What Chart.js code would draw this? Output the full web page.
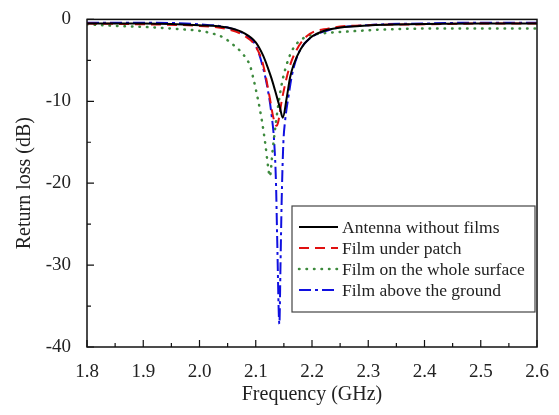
<!DOCTYPE html>
<html>
<head>
<meta charset="utf-8">
<script src="https://cdn.jsdelivr.net/npm/chart.js@4.4.1/dist/chart.umd.min.js"></script>
<style>
  html, body { margin: 0; padding: 0; background: #fff; }
  #wrap { width: 559px; height: 415px; }
</style>
</head>
<body>
<div id="wrap"><canvas id="rl"></canvas></div>
<script>
// Series labels
const seriesNames = ['Antenna without films', 'Film under patch', 'Film on the whole surface', 'Film above the ground'];

// Antenna without films (black, solid)
const freqBlack = [1.80, 1.90, 2.00, 2.05, 2.08, 2.10, 2.113, 2.122, 2.128, 2.134, 2.143, 2.148, 2.155, 2.161, 2.167, 2.18, 2.196, 2.226, 2.285, 2.37, 2.50, 2.60];
const lossBlack = [-0.5, -0.5, -0.7, -1.0, -1.7, -2.8, -4.4, -6.0, -7.2, -8.6, -10.8, -12.0, -9.6, -7.1, -5.6, -3.6, -2.3, -1.3, -0.8, -0.6, -0.5, -0.5];

// Film under patch (red, dashed)
const freqRed = [1.80, 1.90, 2.00, 2.05, 2.08, 2.10, 2.113, 2.125, 2.131, 2.137, 2.140, 2.146, 2.152, 2.158, 2.167, 2.19, 2.23, 2.30, 2.40, 2.50, 2.60];
const lossRed = [-0.5, -0.6, -0.8, -1.2, -2.0, -3.3, -5.5, -9.6, -11.9, -13.0, -12.5, -10.0, -8.0, -6.3, -4.5, -2.1, -1.1, -0.7, -0.6, -0.5, -0.5];

// Film on the whole surface (green, dotted)
const freqGreen = [1.80, 1.823, 1.924, 1.965, 2.00, 2.022, 2.042, 2.06, 2.078, 2.09, 2.095, 2.104, 2.111, 2.117, 2.122, 2.125, 2.13, 2.136, 2.141, 2.148, 2.16, 2.17, 2.19, 2.22, 2.26, 2.34, 2.45, 2.60];
const lossGreen = [-0.6, -0.7, -1.0, -1.2, -1.4, -1.7, -2.2, -3.1, -4.3, -5.7, -7.0, -9.8, -12.4, -15.2, -18.0, -19.2, -16.0, -12.5, -10.0, -7.3, -4.5, -3.2, -2.1, -1.7, -1.5, -1.2, -1.1, -1.1];

// Film above the ground (blue, dash-dot)
const freqBlue = [1.80, 1.90, 2.00, 2.05, 2.08, 2.10, 2.113, 2.122, 2.128, 2.133, 2.136, 2.138, 2.142, 2.144, 2.146, 2.149, 2.152, 2.158, 2.165, 2.175, 2.19, 2.23, 2.30, 2.40, 2.50, 2.60];
const lossBlue = [-0.4, -0.4, -0.6, -1.0, -1.8, -3.2, -5.9, -8.8, -11.6, -15.2, -20.0, -26.4, -37.2, -30.0, -22.4, -15.2, -12.5, -9.5, -6.6, -4.3, -2.7, -1.3, -0.7, -0.5, -0.4, -0.4];

// Axis ticks
const freqTicks = [1.8, 1.9, 2.0, 2.1, 2.2, 2.3, 2.4, 2.5, 2.6];
const lossTicks = [0, -10, -20, -30, -40];

const serif = '"Liberation Serif", "DejaVu Serif", serif';

function pts(xs, ys) {
    return xs.map((x, i) => ({ x: x, y: ys[i] }));
}

// inward ticks + frame box
const framePlugin = {
    id: 'frame',
    afterDraw(chart) {
        const { ctx, chartArea: a, scales } = chart;
        ctx.save();
        ctx.strokeStyle = '#111';
        ctx.lineWidth = 1.5;
        ctx.strokeRect(a.left, a.top, a.right - a.left, a.bottom - a.top);

        ctx.lineWidth = 1.2;
        ctx.beginPath();
        for (let i = 0; i < freqTicks.length; i++) {
            const px = scales.x.getPixelForValue(freqTicks[i]);
            ctx.moveTo(px, a.bottom);
            ctx.lineTo(px, a.bottom - 7);
            if (i < freqTicks.length - 1) {
                const mx = scales.x.getPixelForValue((freqTicks[i] + freqTicks[i + 1]) / 2);
                ctx.moveTo(mx, a.bottom);
                ctx.lineTo(mx, a.bottom - 4);
            }
        }
        for (let i = 0; i < lossTicks.length; i++) {
            const py = scales.y.getPixelForValue(lossTicks[i]);
            ctx.moveTo(a.left, py);
            ctx.lineTo(a.left + 7, py);
            if (i < lossTicks.length - 1) {
                const my = scales.y.getPixelForValue((lossTicks[i] + lossTicks[i + 1]) / 2);
                ctx.moveTo(a.left, my);
                ctx.lineTo(a.left + 4, my);
            }
        }
        ctx.stroke();
        ctx.restore();
    }
};

// boxed legend in the lower right of the plot
const boxLegend = {
    id: 'boxLegend',
    afterDraw(chart) {
        const ctx = chart.ctx;
        const bx = 292, by = 206, bw = 243, bh = 106;
        ctx.save();
        ctx.fillStyle = '#fff';
        ctx.fillRect(bx, by, bw, bh);
        ctx.strokeStyle = '#444';
        ctx.lineWidth = 1.2;
        ctx.strokeRect(bx, by, bw, bh);
        ctx.font = '17.5px ' + serif;
        ctx.textBaseline = 'middle';
        chart.data.datasets.forEach((ds, i) => {
            const y = by + 21 + i * 21;
            ctx.beginPath();
            ctx.strokeStyle = ds.borderColor;
            ctx.lineWidth = ds.borderWidth;
            ctx.lineCap = ds.borderCapStyle || 'butt';
            ctx.setLineDash(ds.borderDash || []);
            ctx.moveTo(bx + 7, y);
            ctx.lineTo(bx + 46, y);
            ctx.stroke();
            ctx.setLineDash([]);
            ctx.fillStyle = '#222';
            ctx.fillText(ds.label, bx + 50, y + 1);
        });
        ctx.restore();
    }
};

const styles = [
    { color: '#000000', dash: [], cap: 'butt' },
    { color: '#e01010', dash: [10, 6], cap: 'butt' },
    { color: '#3d8a3d', dash: [0.5, 7], cap: 'round' },
    { color: '#1010e0', dash: [12, 4, 3, 4], cap: 'butt' }
];
const series = [
    pts(freqBlack, lossBlack),
    pts(freqRed, lossRed),
    pts(freqGreen, lossGreen),
    pts(freqBlue, lossBlue)
];

new Chart(document.getElementById('rl'), {
    type: 'line',
    data: {
        datasets: series.map((d, i) => ({
            label: seriesNames[i],
            data: d,
            borderColor: styles[i].color,
            borderDash: styles[i].dash,
            borderCapStyle: styles[i].cap,
            borderWidth: i === 2 ? 2.5 : 2,
            pointRadius: 0,
            cubicInterpolationMode: 'monotone',
            fill: false
        }))
    },
    options: {
        responsive: true,
        maintainAspectRatio: false,
        animation: false,
        layout: { padding: { top: 14, right: 22, left: 0, bottom: 0 } },
        plugins: {
            legend: { display: false },
            tooltip: { enabled: false }
        },
        scales: {
            x: {
                type: 'linear',
                min: 1.8,
                max: 2.6,
                afterFit: s => { s.height = 68; },
                afterBuildTicks: s => { s.ticks = freqTicks.map(v => ({ value: v })); },
                grid: { display: false },
                border: { display: false },
                ticks: {
                    padding: 6,
                    color: '#222',
                    font: { family: serif, size: 19 },
                    callback: v => v.toFixed(1)
                },
                title: {
                    display: true,
                    text: 'Frequency (GHz)',
                    color: '#222',
                    font: { family: serif, size: 20 },
                    padding: { top: 0, bottom: 8 }
                }
            },
            y: {
                min: -40,
                max: 0,
                afterFit: s => { s.width = 87; },
                afterBuildTicks: s => { s.ticks = lossTicks.map(v => ({ value: v })); },
                grid: { display: false },
                border: { display: false },
                ticks: {
                    padding: 8,
                    color: '#222',
                    font: { family: serif, size: 19 },
                    callback: v => String(v)
                },
                title: {
                    display: true,
                    text: 'Return loss (dB)',
                    color: '#222',
                    font: { family: serif, size: 20 },
                    padding: { top: 13, bottom: 0 }
                }
            }
        }
    },
    plugins: [framePlugin, boxLegend]
});
</script>
</body>
</html>
